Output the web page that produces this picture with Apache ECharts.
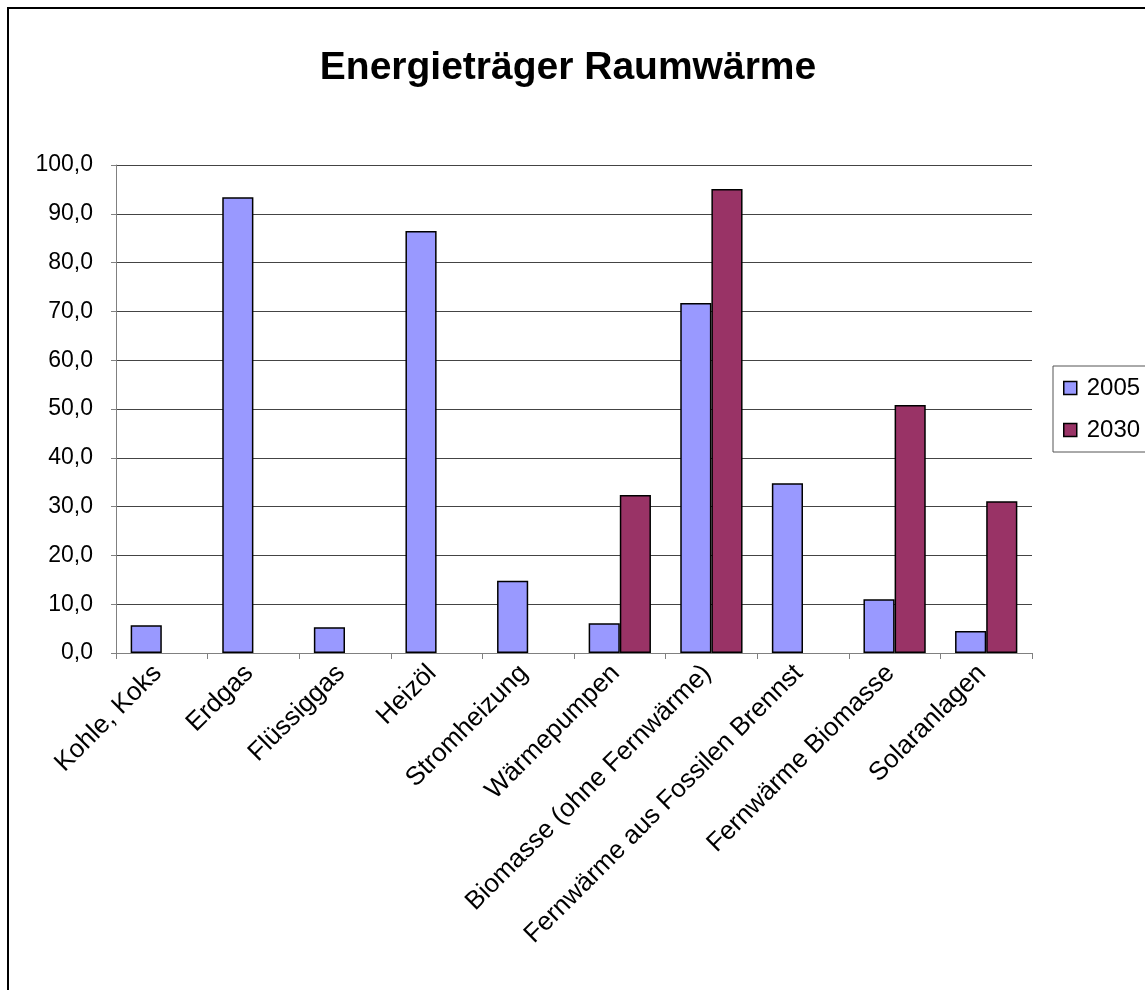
<!DOCTYPE html>
<html>
<head>
<meta charset="utf-8">
<script src="https://cdn.jsdelivr.net/npm/echarts@6/dist/echarts.min.js"></script>
<style>
    html, body { margin: 0; padding: 0; background: #fff; }
    #chart { width: 1145px; height: 990px; }
</style>
</head>
<body>
<div id="chart"></div>
<script>
// Kategorien und Werte
const categories = ['Kohle, Koks', 'Erdgas', 'Flüssiggas', 'Heizöl', 'Stromheizung', 'Wärmepumpen',
    'Biomasse (ohne Fernwärme)', 'Fernwärme aus Fossilen Brennst', 'Fernwärme Biomasse', 'Solaranlagen'];
const values2005 = [5.7, 93.4, 5.3, 86.5, 14.8, 6.1, 71.7, 34.8, 11.0, 4.5];
const values2030 = ['-', '-', '-', '-', '-', 32.4, 95.1, '-', 50.8, 31.1];
const seriesNames = ['2005', '2030'];
const seriesColors = ['#9999FF', '#993366'];

const font = 'Arial, "Liberation Sans", sans-serif';

const myChart = echarts.init(document.getElementById('chart'));
const option = {
    animation: false,
    backgroundColor: '#fff',
    title: {
        text: 'Energieträger Raumwärme',
        left: 563,
        top: 44,
        textAlign: 'center',
        textStyle: {
            fontFamily: font,
            fontSize: 39,
            fontWeight: 'bold',
            color: '#000'
        }
    },
    graphic: [{
        type: 'rect',
        shape: { x: 8, y: 8, width: 1200, height: 1100 },
        style: { fill: 'none', stroke: '#000', lineWidth: 2 },
        silent: true
    }],
    legend: {
        orient: 'vertical',
        left: 1053,
        top: 366,
        data: seriesNames,
        icon: 'rect',
        itemWidth: 13,
        itemHeight: 13,
        itemGap: 18,
        padding: [10, 20, 10, 10],
        borderColor: '#555',
        borderWidth: 1,
        itemStyle: { borderColor: '#000', borderWidth: 1.5 },
        textStyle: {
            fontFamily: font,
            fontSize: 24,
            color: '#000',
            padding: [0, 0, 0, 5]
        }
    },
    grid: {
        left: 116,
        right: 113,
        top: 165,
        bottom: 337,
        containLabel: false
    },
    xAxis: [{
        type: 'category',
        data: categories,
        axisLine: { lineStyle: { color: '#808080', width: 1 } },
        axisTick: { show: true, length: 6, lineStyle: { color: '#808080' } },
        axisLabel: {
            rotate: 45,
            margin: 12,
            interval: 0,
            padding: [0, 6, 0, 0],
            fontFamily: font,
            fontSize: 26,
            color: '#000'
        }
    }],
    yAxis: [{
        type: 'value',
        min: 0,
        max: 100,
        interval: 10,
        axisLine: { show: true, lineStyle: { color: '#808080', width: 1 } },
        axisTick: { show: true, length: 5, lineStyle: { color: '#808080' } },
        splitLine: { lineStyle: { color: '#444', width: 1 } },
        axisLabel: {
            margin: 23,
            fontFamily: font,
            fontSize: 23,
            color: '#000',
            formatter: function (v) { return v.toFixed(1).replace('.', ','); }
        }
    }],
    series: [{
        name: seriesNames[0],
        type: 'bar',
        data: values2005,
        barGap: '0%',
        barCategoryGap: '32%',
        itemStyle: { color: seriesColors[0], borderColor: '#000', borderWidth: 1.5 }
    }, {
        name: seriesNames[1],
        type: 'bar',
        data: values2030,
        barGap: '0%',
        barCategoryGap: '32%',
        itemStyle: { color: seriesColors[1], borderColor: '#000', borderWidth: 1.5 }
    }]
};
myChart.setOption(option);
</script>
</body>
</html>
